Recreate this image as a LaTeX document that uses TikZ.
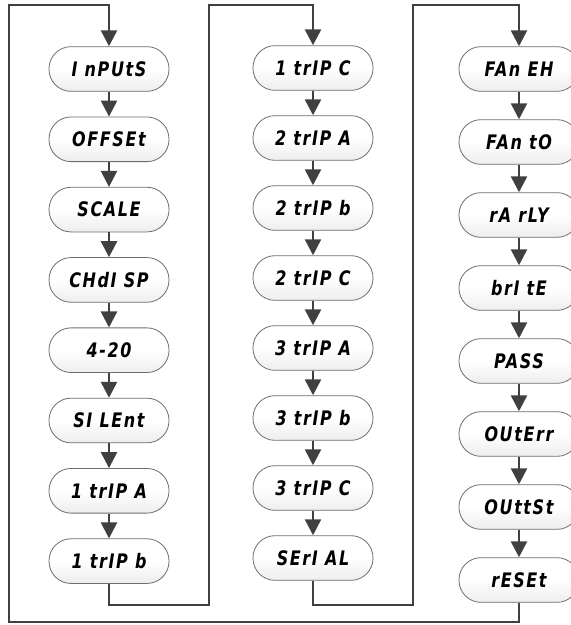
\documentclass[tikz,border=0pt]{standalone}
\usepackage{fontspec}
\newfontfamily\segfont{DejaVu Sans}[FakeStretch=0.8,LetterSpace=8]
\usepackage{tikz}
\usetikzlibrary{arrows.meta,positioning,calc}
\definecolor{menuLine}{RGB}{64,64,64}
\definecolor{menuEdge}{RGB}{110,110,110}

\begin{document}
\begin{tikzpicture}[
  x=0.75pt,y=-0.75pt,
  menu/.style={rectangle,rounded corners=16.5pt,draw=menuEdge,line width=0.6pt,
               top color=white,bottom color=black!7,middle color=white,
               minimum width=90pt,minimum height=33.5pt,inner sep=0pt,
               text height=11pt,text depth=0pt,
               font=\segfont\bfseries\itshape\fontsize{15}{17}\selectfont},
  flow/.style={-{Triangle[width=12pt,length=12pt]},line width=1.9pt,color=menuLine}
]
% page
\useasboundingbox (0,0) rectangle (571,625);
\fill[white] (0,0) rectangle (571,625);
% first column
\foreach \txt [count=\i] in {I nPUtS,OFFSEt,SCALE,CHdI SP,4-20,SI LEnt,1 trIP A,1 trIP b}
  \node[menu] (a\i) at (109,{69+70.3*(\i-1)}) {\txt};
% second column
\foreach \txt [count=\i] in {1 trIP C,2 trIP A,2 trIP b,2 trIP C,3 trIP A,3 trIP b,3 trIP C,SErI AL}
  \node[menu] (b\i) at (313,{68+70.0*(\i-1)}) {\txt};
% third column
\foreach \txt [count=\i] in {FAn EH,FAn tO,rA rLY,brI tE,PASS,OUtErr,OUttSt,rESEt}
  \node[menu] (c\i) at (519,{69+73.0*(\i-1)}) {\txt};
% arrows down each column
\foreach \col in {a,b,c}
  \foreach \i in {1,...,7}{
    \pgfmathtruncatemacro\j{\i+1}
    \draw[flow] (\col\i.south) -- (\col\j.north);
  }
% column to column
\draw[flow] (a8.south) -- (a8.south |- 0,605) -| (209,5) -| (b1.north);
\draw[flow] (b8.south) -- (b8.south |- 0,605) -| (413,5) -| (c1.north);
% back to the start
\draw[flow] (c8.south) -- (c8.south |- 0,622) -| (9,5) -| (a1.north);
\end{tikzpicture}
\end{document}
